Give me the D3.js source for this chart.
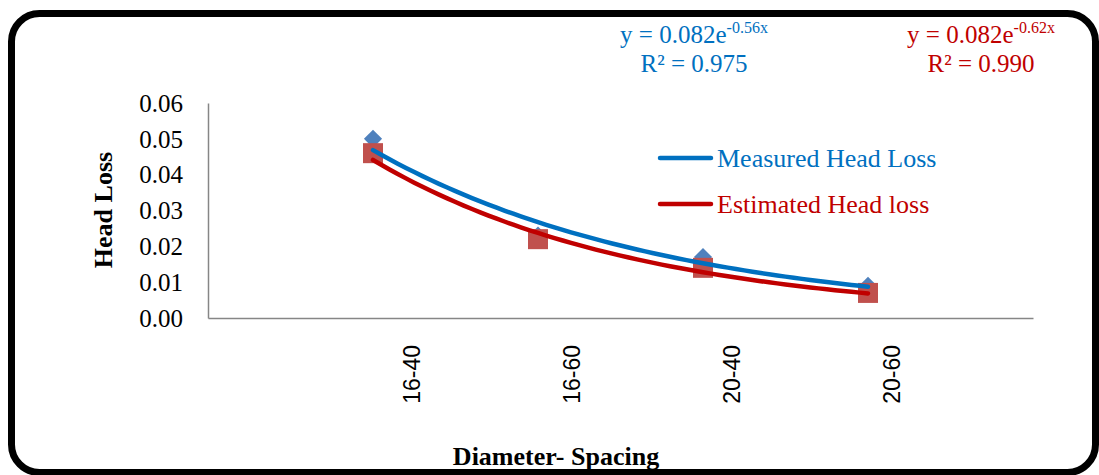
<!DOCTYPE html>
<html>
<head>
<meta charset="utf-8">
<script src="https://cdn.jsdelivr.net/npm/d3@7"></script>
<style>
  html, body { margin: 0; padding: 0; background: #fff; }
  svg { display: block; }
  .serif { font-family: "Liberation Serif", "Times New Roman", serif; }
  .sans { font-family: "Liberation Sans", Arial, sans-serif; }
</style>
</head>
<body>
<svg id="chart" width="1099" height="475"></svg>
<script>
// Diameter-spacing combinations on the category axis
const categories = ["16-40", "16-60", "20-40", "20-60"];
// Head loss values per combination
const measured = [0.050, 0.023, 0.017, 0.009];
const estimated = [0.046, 0.022, 0.014, 0.007];
// Exponential trend fits: y = a * e^(b * x), x = category number (1..4)
const trendA = [0.082, 0.082];
const trendB = [-0.56, -0.62];
const trendR2 = ["0.975", "0.990"];
const seriesNames = ["Measured Head Loss", "Estimated Head loss"];
const yTicks = [0, 0.01, 0.02, 0.03, 0.04, 0.05, 0.06];

const blue = "#0070C0", red = "#C00000";
const lineColors = [blue, red];
const markerColors = ["#4F81BD", "#C0504D"];

const svg = d3.select("#chart");

// Rounded frame around the whole chart
svg.append("rect")
  .attr("x", 11.5).attr("y", 13.5)
  .attr("width", 1084).attr("height", 459)
  .attr("rx", 28).attr("ry", 28)
  .attr("fill", "#fff").attr("stroke", "#000").attr("stroke-width", 7);

const plot = { left: 208, right: 1033, top: 103, bottom: 318 };

// Category axis: slots 0..5, categories sit on 1..4
const x = d3.scaleLinear().domain([0, categories.length + 1]).range([plot.left, plot.right]);
const y = d3.scaleLinear().domain([0, 0.06]).range([plot.bottom, plot.top]);
// Rotated category labels are spaced on their own scale
const xLabel = d3.scaleLinear().domain([1, categories.length]).range([412, 892]);

// Y axis
const yAxis = d3.axisLeft(y).tickValues(yTicks).tickFormat(d3.format(".2f")).tickSize(0).tickPadding(25);
const gy = svg.append("g").attr("transform", `translate(${plot.left},0)`).call(yAxis);
gy.select(".domain").attr("stroke", "#868686").attr("stroke-width", 1.5);
gy.selectAll("text")
  .attr("class", "serif")
  .attr("font-size", 25)
  .attr("fill", "#000")
  .attr("dy", "0.33em");

// X axis line
const xAxis = d3.axisBottom(x).tickValues([]).tickSize(0);
const gx = svg.append("g").attr("transform", `translate(0,${plot.bottom})`).call(xAxis);
gx.select(".domain").attr("stroke", "#868686").attr("stroke-width", 1.5);

// Category labels, rotated
svg.append("g").selectAll("text")
  .data(categories)
  .join("text")
  .attr("class", "sans")
  .attr("font-size", 23)
  .attr("fill", "#000")
  .attr("text-anchor", "end")
  .attr("transform", (d, i) => `translate(${xLabel(i + 1) + 8},345) rotate(-90)`)
  .text(d => d);

// Axis titles
svg.append("text")
  .attr("class", "serif")
  .attr("font-size", 26).attr("font-weight", "bold")
  .attr("text-anchor", "middle")
  .attr("transform", "translate(112,210) rotate(-90)")
  .text("Head Loss");

svg.append("text")
  .attr("class", "serif")
  .attr("font-size", 26).attr("font-weight", "bold")
  .attr("text-anchor", "middle")
  .attr("x", 556).attr("y", 465)
  .text("Diameter- Spacing");

// Markers: diamonds for measured, squares for estimated
const idx = d3.range(categories.length);
svg.append("g").selectAll("path")
  .data(idx)
  .join("path")
  .attr("d", d3.symbol().type(d3.symbolDiamond2).size(210))
  .attr("transform", i => `translate(${x(i + 1)},${y(measured[i])})`)
  .attr("fill", markerColors[0]);

svg.append("g").selectAll("rect")
  .data(idx)
  .join("rect")
  .attr("x", i => x(i + 1) - 10)
  .attr("y", i => y(estimated[i]) - 10)
  .attr("width", 20).attr("height", 20)
  .attr("fill", markerColors[1]);

// Exponential trend curves over the category range
const line = d3.line().x(d => x(d[0])).y(d => y(d[1]));
[1, 0].forEach(k => {
  const pts = d3.range(1, categories.length + 0.001, 0.05)
    .map(t => [t, trendA[k] * Math.exp(trendB[k] * t)]);
  svg.append("path")
    .datum(pts)
    .attr("d", line)
    .attr("fill", "none")
    .attr("stroke", lineColors[k])
    .attr("stroke-width", 4.5)
    .attr("stroke-linecap", "round");
});

// Legend
const legendY = [158, 204];
seriesNames.forEach((name, k) => {
  svg.append("line")
    .attr("x1", 660).attr("x2", 711)
    .attr("y1", legendY[k]).attr("y2", legendY[k])
    .attr("stroke", lineColors[k]).attr("stroke-width", 4.5)
    .attr("stroke-linecap", "round");
  svg.append("text")
    .attr("class", "serif")
    .attr("font-size", 26)
    .attr("fill", lineColors[k])
    .attr("x", 717).attr("y", legendY[k] + 8.5)
    .text(name);
});

// Trend equations and R² values
const eqX = [694, 981];
trendA.forEach((a, k) => {
  const t = svg.append("text")
    .attr("class", "serif")
    .attr("fill", lineColors[k])
    .attr("text-anchor", "middle")
    .attr("x", eqX[k]).attr("y", 43)
    .attr("font-size", 25);
  t.append("tspan").text(`y = ${a}e`);
  t.append("tspan").attr("font-size", 16).attr("dy", -10).text(`${trendB[k]}x`);

  svg.append("text")
    .attr("class", "serif")
    .attr("fill", lineColors[k])
    .attr("text-anchor", "middle")
    .attr("x", eqX[k]).attr("y", 72)
    .attr("font-size", 25)
    .text(`R² = ${trendR2[k]}`);
});
</script>
</body>
</html>
